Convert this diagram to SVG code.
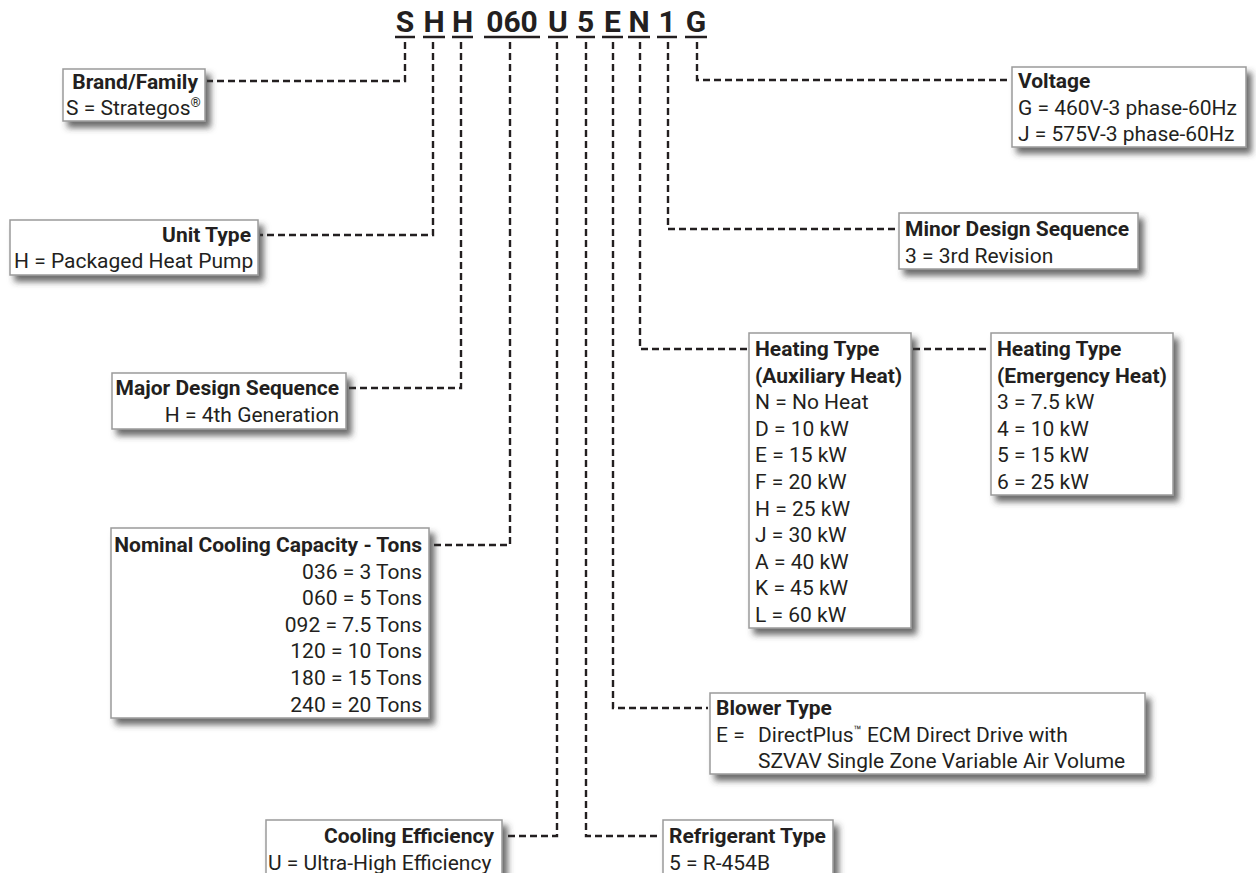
<svg xmlns="http://www.w3.org/2000/svg" width="1256" height="873" viewBox="0 0 1256 873">
<defs>
<filter id="sh" x="-10%" y="-10%" width="130%" height="140%">
<feDropShadow dx="5" dy="6" stdDeviation="3" flood-color="#3a3a3a" flood-opacity="0.75"/>
</filter>
<style>
text{font-family:Roboto,"Liberation Sans",sans-serif;font-size:21px;fill:#231f20}
.b{font-weight:bold}
.e{text-anchor:end}
.code{font-size:30px;font-weight:bold;text-anchor:middle}
.box{fill:#fff;stroke:#9a9a9a;stroke-width:1.5;filter:url(#sh)}
.ul{stroke:#231f20;stroke-width:2.5}
.c{fill:none;stroke:#231f20;stroke-width:2.4;stroke-dasharray:7 4}
.sup{font-size:13px}
</style>
</defs>
<rect width="1256" height="873" fill="#fff"/>

<g id="code">
<text class="code" x="405" y="32">S</text>
<text class="code" x="434" y="32">H</text>
<text class="code" x="462.5" y="32">H</text>
<text class="code" x="512" y="32">060</text>
<text class="code" x="558" y="32">U</text>
<text class="code" x="585.5" y="32">5</text>
<text class="code" x="612.5" y="32">E</text>
<text class="code" x="639" y="32">N</text>
<text class="code" x="667" y="32">1</text>
<text class="code" x="696" y="32">G</text>
<line class="ul" x1="395" y1="37" x2="415" y2="37"/>
<line class="ul" x1="423" y1="37" x2="445" y2="37"/>
<line class="ul" x1="452" y1="37" x2="473" y2="37"/>
<line class="ul" x1="484" y1="37" x2="540" y2="37"/>
<line class="ul" x1="548" y1="37" x2="568" y2="37"/>
<line class="ul" x1="576" y1="37" x2="595" y2="37"/>
<line class="ul" x1="602" y1="37" x2="623" y2="37"/>
<line class="ul" x1="628" y1="37" x2="650" y2="37"/>
<line class="ul" x1="657" y1="37" x2="677" y2="37"/>
<line class="ul" x1="685" y1="37" x2="707" y2="37"/>
</g>

<g id="connectors">
<path class="c" d="M405 42 V81 H207"/>
<path class="c" d="M433 42 V235 H260"/>
<path class="c" d="M461 42 V388 H348"/>
<path class="c" d="M510 42 V545 H431"/>
<path class="c" d="M557 42 V836 H504"/>
<path class="c" d="M586 42 V836 H661"/>
<path class="c" d="M613 42 V708 H708"/>
<path class="c" d="M640 42 V349 H747"/>
<path class="c" d="M668 42 V229 H897"/>
<path class="c" d="M697 42 V80 H1010"/>
<path class="c" d="M913 349 H989"/>
</g>

<g id="brand">
<rect class="box" x="63" y="69" width="142" height="52"/>
<text class="b e" x="198" y="89">Brand/Family</text>
<text x="66" y="115">S = Strategos<tspan class="sup" dy="-8">®</tspan></text>
</g>

<g id="unit-type">
<rect class="box" x="10" y="220" width="248" height="55"/>
<text class="b e" x="251" y="242">Unit Type</text>
<text x="14" y="268">H = Packaged Heat Pump</text>
</g>

<g id="major-design">
<rect class="box" x="112" y="373" width="234" height="56"/>
<text class="b e" x="339" y="395">Major Design Sequence</text>
<text class="e" x="339" y="421.5">H = 4th Generation</text>
</g>

<g id="nominal-cooling">
<rect class="box" x="111" y="528" width="318" height="190"/>
<text class="b e" x="422" y="552">Nominal Cooling Capacity - Tons</text>
<text class="e" x="422" y="578.6">036 = 3 Tons</text>
<text class="e" x="422" y="605.2">060 = 5 Tons</text>
<text class="e" x="422" y="631.8">092 = 7.5 Tons</text>
<text class="e" x="422" y="658.4">120 = 10 Tons</text>
<text class="e" x="422" y="685">180 = 15 Tons</text>
<text class="e" x="422" y="711.6">240 = 20 Tons</text>
</g>

<g id="cooling-efficiency">
<rect class="box" x="266" y="820" width="236" height="62"/>
<text class="b e" x="494" y="843">Cooling Efficiency</text>
<text x="268" y="869.5">U = Ultra-High Efficiency</text>
</g>

<g id="refrigerant">
<rect class="box" x="663" y="820" width="170" height="62"/>
<text class="b" x="669" y="843">Refrigerant Type</text>
<text x="669" y="869.5">5 = R-454B</text>
</g>

<g id="blower">
<rect class="box" x="710" y="693" width="435" height="81"/>
<text class="b" x="716" y="715">Blower Type</text>
<text x="716" y="741.5">E =</text>
<text x="758" y="741.5">DirectPlus<tspan class="sup" dy="-7">™</tspan><tspan dy="7"> ECM Direct Drive with</tspan></text>
<text x="758" y="768">SZVAV Single Zone Variable Air Volume</text>
</g>

<g id="heating-aux">
<rect class="box" x="749" y="333" width="162" height="295"/>
<text class="b" x="755" y="356">Heating Type</text>
<text class="b" x="755" y="382.6">(Auxiliary Heat)</text>
<text x="755" y="409.2">N = No Heat</text>
<text x="755" y="435.8">D = 10 kW</text>
<text x="755" y="462.4">E = 15 kW</text>
<text x="755" y="489">F = 20 kW</text>
<text x="755" y="515.6">H = 25 kW</text>
<text x="755" y="542.2">J = 30 kW</text>
<text x="755" y="568.8">A = 40 kW</text>
<text x="755" y="595.4">K = 45 kW</text>
<text x="755" y="622">L = 60 kW</text>
</g>

<g id="heating-emergency">
<rect class="box" x="991" y="333" width="182" height="162"/>
<text class="b" x="997" y="356">Heating Type</text>
<text class="b" x="997" y="382.6">(Emergency Heat)</text>
<text x="997" y="409.2">3 = 7.5 kW</text>
<text x="997" y="435.8">4 = 10 kW</text>
<text x="997" y="462.4">5 = 15 kW</text>
<text x="997" y="489">6 = 25 kW</text>
</g>

<g id="minor-design">
<rect class="box" x="899" y="213" width="239" height="56"/>
<text class="b" x="905" y="236">Minor Design Sequence</text>
<text x="905" y="262.5">3 = 3rd Revision</text>
</g>

<g id="voltage">
<rect class="box" x="1012" y="67" width="234" height="80"/>
<text class="b" x="1018" y="88">Voltage</text>
<text x="1018" y="114.5">G = 460V-3 phase-60Hz</text>
<text x="1018" y="141">J = 575V-3 phase-60Hz</text>
</g>
</svg>
